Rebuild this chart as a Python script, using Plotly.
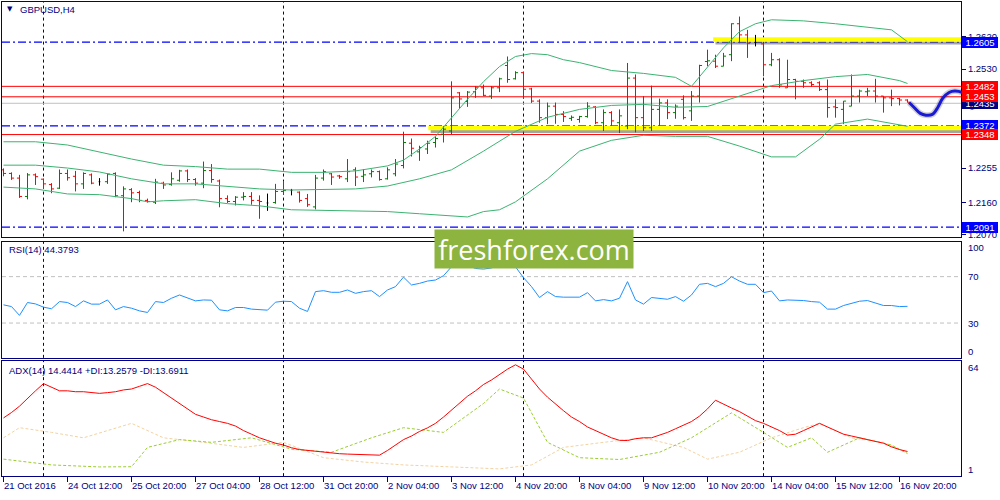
import plotly.graph_objects as go

# ---------------- data ----------------
symbol_title = "GBPUSD,H4"
rsi_title = "RSI(14) 44.3793"
adx_title = "ADX(14) 14.4414 +DI:13.2579 -DI:13.6911"

tick_idx = [0, 8, 16, 24, 32, 40, 48, 56, 64, 72, 80, 88, 96, 104, 112]
tick_labels = ["21 Oct 2016", "24 Oct 12:00", "25 Oct 20:00", "27 Oct 04:00", "28 Oct 12:00",
               "31 Oct 20:00", "2 Nov 04:00", "3 Nov 12:00", "4 Nov 20:00", "8 Nov 04:00",
               "9 Nov 12:00", "10 Nov 20:00", "14 Nov 04:00", "15 Nov 12:00", "16 Nov 20:00"]
week_sep_idx = [5, 35, 65, 95]
price_ticks = [1.2620, 1.2530, 1.2255, 1.2160, 1.2070]

opens = [1.2250, 1.2240, 1.2227, 1.2176, 1.2236, 1.2224, 1.2209, 1.2199, 1.2240, 1.2232,
         1.2211, 1.2236, 1.2217, 1.2217, 1.2240, 1.2178, 1.2195, 1.2187, 1.2165, 1.2160,
         1.2213, 1.2209, 1.2221, 1.2247, 1.2223, 1.2213, 1.2248, 1.2219, 1.2170, 1.2162,
         1.2174, 1.2176, 1.2165, 1.2158, 1.2159, 1.2190, 1.2193, 1.2188, 1.2170, 1.2147,
         1.2227, 1.2239, 1.2233, 1.2225, 1.2250, 1.2232, 1.2239, 1.2245, 1.2225, 1.2239,
         1.2262, 1.2324, 1.2300, 1.2308, 1.2326, 1.2349, 1.2358, 1.2464, 1.2440, 1.2467,
         1.2478, 1.2455, 1.2478, 1.2540, 1.2503, 1.2520, 1.2475, 1.2441, 1.2395, 1.2427,
         1.2404, 1.2393, 1.2390, 1.2398, 1.2425, 1.2381, 1.2409, 1.2381, 1.2372, 1.2505,
         1.2395, 1.2367, 1.2418, 1.2436, 1.2409, 1.2446, 1.2414, 1.2455, 1.2551, 1.2552,
         1.2538, 1.2570, 1.2656, 1.2625, 1.2604, 1.2600, 1.2542, 1.2556, 1.2478, 1.2501,
         1.2496, 1.2492, 1.2492, 1.2473, 1.2425, 1.2418, 1.2427, 1.2455, 1.2467, 1.2469,
         1.2455, 1.2450, 1.2448, 1.2444]
highs = [1.2254, 1.2243, 1.2236, 1.2241, 1.2240, 1.2226, 1.2213, 1.2251, 1.2251, 1.2247,
         1.2243, 1.2240, 1.2227, 1.2240, 1.2243, 1.2204, 1.2199, 1.2192, 1.2170, 1.2225,
         1.2217, 1.2243, 1.2250, 1.2251, 1.2227, 1.2273, 1.2266, 1.2223, 1.2179, 1.2177,
         1.2188, 1.2188, 1.2179, 1.2184, 1.2211, 1.2219, 1.2197, 1.2190, 1.2183, 1.2236,
         1.2251, 1.2241, 1.2236, 1.2280, 1.2257, 1.2252, 1.2251, 1.2248, 1.2257, 1.2280,
         1.2356, 1.2337, 1.2317, 1.2331, 1.2343, 1.2372, 1.2496, 1.2466, 1.2469, 1.2483,
         1.2487, 1.2483, 1.2506, 1.2565, 1.2524, 1.2522, 1.2478, 1.2446, 1.2437, 1.2437,
         1.2413, 1.2401, 1.2400, 1.2438, 1.2427, 1.2418, 1.2413, 1.2418, 1.2547, 1.2515,
         1.2455, 1.2484, 1.2448, 1.2446, 1.2432, 1.2457, 1.2469, 1.2542, 1.2584, 1.2570,
         1.2575, 1.2657, 1.2676, 1.2639, 1.2625, 1.2602, 1.2575, 1.2560, 1.2556, 1.2503,
         1.2501, 1.2496, 1.2496, 1.2501, 1.2446, 1.2441, 1.2515, 1.2473, 1.2478, 1.2503,
         1.2455, 1.2473, 1.2450, 1.2446]
lows = [1.2232, 1.2222, 1.2172, 1.2168, 1.2208, 1.2197, 1.2185, 1.2197, 1.2220, 1.2190,
        1.2197, 1.2210, 1.2206, 1.2211, 1.2174, 1.2079, 1.2160, 1.2160, 1.2159, 1.2155,
        1.2197, 1.2206, 1.2217, 1.2216, 1.2206, 1.2199, 1.2214, 1.2146, 1.2158, 1.2151,
        1.2165, 1.2153, 1.2114, 1.2136, 1.2156, 1.2180, 1.2179, 1.2159, 1.2147, 1.2140,
        1.2220, 1.2208, 1.2225, 1.2216, 1.2205, 1.2216, 1.2229, 1.2220, 1.2223, 1.2232,
        1.2254, 1.2287, 1.2275, 1.2294, 1.2312, 1.2326, 1.2349, 1.2420, 1.2425, 1.2450,
        1.2455, 1.2447, 1.2466, 1.2492, 1.2501, 1.2447, 1.2436, 1.2381, 1.2377, 1.2378,
        1.2383, 1.2386, 1.2381, 1.2395, 1.2377, 1.2358, 1.2372, 1.2352, 1.2363, 1.2354,
        1.2358, 1.2358, 1.2372, 1.2391, 1.2392, 1.2390, 1.2386, 1.2437, 1.2538, 1.2533,
        1.2538, 1.2552, 1.2602, 1.2561, 1.2593, 1.2510, 1.2538, 1.2478, 1.2478, 1.2446,
        1.2478, 1.2481, 1.2469, 1.2395, 1.2395, 1.2377, 1.2427, 1.2437, 1.2455, 1.2437,
        1.2409, 1.2427, 1.2429, 1.2437]
closes = [1.2240, 1.2227, 1.2176, 1.2236, 1.2231, 1.2211, 1.2197, 1.2240, 1.2228, 1.2211,
          1.2240, 1.2213, 1.2217, 1.2238, 1.2178, 1.2197, 1.2186, 1.2165, 1.2162, 1.2216,
          1.2208, 1.2225, 1.2247, 1.2223, 1.2213, 1.2248, 1.2223, 1.2170, 1.2162, 1.2174,
          1.2176, 1.2165, 1.2162, 1.2158, 1.2190, 1.2193, 1.2193, 1.2165, 1.2153, 1.2227,
          1.2245, 1.2230, 1.2231, 1.2245, 1.2230, 1.2236, 1.2245, 1.2223, 1.2250, 1.2266,
          1.2326, 1.2310, 1.2312, 1.2324, 1.2337, 1.2363, 1.2450, 1.2447, 1.2466, 1.2478,
          1.2457, 1.2478, 1.2503, 1.2501, 1.2520, 1.2474, 1.2441, 1.2395, 1.2427, 1.2404,
          1.2398, 1.2396, 1.2398, 1.2427, 1.2381, 1.2409, 1.2386, 1.2400, 1.2505, 1.2395,
          1.2367, 1.2418, 1.2436, 1.2409, 1.2427, 1.2395, 1.2455, 1.2540, 1.2553, 1.2538,
          1.2566, 1.2656, 1.2625, 1.2602, 1.2604, 1.2542, 1.2556, 1.2486, 1.2501, 1.2496,
          1.2492, 1.2487, 1.2473, 1.2423, 1.2423, 1.2441, 1.2455, 1.2469, 1.2469, 1.2455,
          1.2450, 1.2448, 1.2444, 1.2438]

# Bollinger bands read at selected bars
bb_up_idx = [0, 4, 8, 12, 16, 20, 24, 28, 32, 36, 40, 44, 48, 50, 52, 54, 56, 58, 60, 62, 64, 66,
             68, 70, 72, 76, 80, 84, 86, 88, 90, 92, 94, 96, 100, 104, 108, 111, 113]
bb_up = [1.2328, 1.2328, 1.2319, 1.2299, 1.2280, 1.2263, 1.2259, 1.2252, 1.2252, 1.2243, 1.2243,
         1.2247, 1.2261, 1.2277, 1.2308, 1.2343, 1.2396, 1.2446, 1.2495, 1.2537, 1.2565, 1.2573,
         1.2570, 1.2556, 1.2548, 1.2526, 1.2518, 1.2507, 1.2482, 1.2534, 1.2589, 1.2634, 1.2656,
         1.2667, 1.2664, 1.2656, 1.2647, 1.2639, 1.2606]
bb_mid_idx = [0, 4, 8, 12, 16, 20, 24, 28, 32, 36, 40, 44, 48, 52, 56, 60, 64, 68, 72, 76, 80, 84,
              88, 92, 96, 100, 104, 108, 112, 113]
bb_mid = [1.2263, 1.2263, 1.2255, 1.2244, 1.2225, 1.2211, 1.2211, 1.2203, 1.2197, 1.2194, 1.2195,
          1.2197, 1.2205, 1.2225, 1.2250, 1.2302, 1.2357, 1.2396, 1.2418, 1.2429, 1.2432, 1.2424,
          1.2426, 1.2454, 1.2484, 1.2498, 1.2509, 1.2515, 1.2498, 1.2490]
bb_low_idx = [0, 4, 8, 12, 16, 18, 20, 24, 28, 32, 36, 40, 44, 48, 52, 56, 58, 60, 62, 64, 68, 72,
              76, 80, 84, 88, 92, 96, 99, 102, 104, 108, 111, 113]
bb_low = [1.2202, 1.2197, 1.2183, 1.2181, 1.2170, 1.2161, 1.2164, 1.2167, 1.2156, 1.2150, 1.2139,
          1.2137, 1.2136, 1.2134, 1.2128, 1.2123, 1.2119, 1.2134, 1.2139, 1.2161, 1.2225, 1.2302,
          1.2332, 1.2346, 1.2343, 1.2343, 1.2316, 1.2286, 1.2286, 1.2335, 1.2377, 1.2391, 1.2379,
          1.2371]

rsi = [45.7, 44.2, 36.6, 47.7, 46.5, 43.7, 42.3, 48.5, 47.7, 44.2, 49.1, 46.3, 46.3, 49.9, 41.4,
       44.2, 42.8, 40.5, 39.1, 48.5, 47.7, 51.4, 54.2, 51.4, 49.1, 49.9, 49.7, 41.4, 40.5, 43.4,
       43.4, 42.0, 41.4, 41.1, 48.0, 48.8, 48.5, 42.8, 40.0, 57.1, 57.9, 56.5, 56.5, 58.5, 55.6,
       57.1, 57.9, 52.8, 58.5, 61.4, 69.6, 62.8, 64.2, 66.2, 67.1, 70.8, 78.5, 82.0, 80.0, 77.0,
       76.5, 77.5, 80.0, 82.0, 78.4, 69.1, 61.4, 52.0, 57.1, 52.8, 52.3, 52.3, 52.3, 56.2, 49.1,
       50.2, 49.1, 51.4, 65.7, 49.9, 46.3, 52.0, 51.4, 50.5, 52.8, 48.8, 54.2, 63.4, 64.2, 61.4,
       64.2, 69.9, 66.2, 63.4, 63.4, 56.2, 57.6, 49.1, 49.9, 49.9, 49.4, 48.5, 48.0, 42.0, 42.0,
       45.1, 47.1, 48.8, 49.4, 47.1, 45.1, 45.1, 44.2, 44.4]

adx = [33, 36, 39.5, 44, 48, 52, 50, 48, 48, 47.5, 47.5, 47, 46.6, 47, 47.5, 48.5, 49, 50.5, 52, 50,
       47, 44, 41, 38, 35, 33.5, 32, 31, 30, 28.5, 26, 24, 22, 20.5, 19, 18, 16.5, 15.5, 15, 14.5,
       14, 13.5, 13.2, 13, 12.8, 12.6, 12.5, 12.4, 15, 18, 21, 23, 25.5, 27.5, 30, 33.5, 37.5, 41,
       45, 48, 51.5, 54, 57, 60, 62.4, 60, 54.5, 49, 44.5, 40.5, 37, 33.5, 31, 28, 26, 24, 22, 20.6,
       20.5, 21.5, 22, 22, 23.5, 25, 27, 29, 31, 34, 38, 42.8, 40.5, 38.5, 36.5, 34, 31.5, 30, 28,
       26, 23.5, 24, 26, 28, 30, 28, 26, 24, 23, 22, 21, 20, 19, 17, 15.5, 14.44]
pdi_idx = [0, 6, 12, 16, 18, 22, 26, 31, 36, 41, 46, 50, 55, 60, 62, 65, 68, 72, 77, 82, 86, 88,
           91, 95, 98, 101, 103, 107, 111, 113]
pdi = [10.2, 7, 5.9, 6, 16.7, 21, 19.5, 22, 15.7, 14, 22, 27.6, 25, 41, 49, 44, 19.5, 11, 10, 14,
       22, 27.6, 35.8, 25, 16.7, 22, 14, 22, 18, 13.26]
mdi_idx = [0, 2, 6, 10, 16, 20, 25, 30, 35, 40, 45, 50, 56, 62, 66, 70, 75, 80, 85, 88, 92, 96,
           100, 102, 106, 110, 113]
mdi = [22, 27.6, 25, 22, 30, 22, 19.5, 16.7, 19.5, 11, 8.6, 7, 5.9, 4.8, 7, 16.7, 19.5, 22, 16.7,
       10.2, 14, 22, 27.6, 30, 22, 19.5, 13.69]

# horizontal levels and drawings
blue_levels = [1.2605, 1.2372, 1.2091]
red_levels = [1.2482, 1.2453, 1.2348]
bid_level = 1.2435
yellow_prices = [1.2612, 1.23665]
yellow_start_idx = [88.7, 53.1]
fc_idx = [113.2, 113.8, 114.6, 115.3, 116.1, 116.8, 117.4, 118.2, 118.9, 119.8, 120.4, 120.9, 121.2]
fc_price = [1.2437, 1.2424, 1.2407, 1.2402, 1.2404, 1.2424, 1.2449, 1.2465, 1.2469, 1.2465,
            1.2454, 1.2435, 1.2418]
watermark = "freshforex.com"

# ---------------- layout geometry (pixels) ----------------
W, H = 1000, 500
NAVY = "#000080"
FONT = "Liberation Sans, Arial, sans-serif"
X_LEFT, X_RIGHT = 2, 961
BAR0, STEP = 3.5, 8.0


def fx(px):
    return px / W


def fy(py):
    return 1 - py / H


xr = [(X_LEFT - BAR0) / STEP, (X_RIGHT - BAR0) / STEP]
main_top, main_bot = 2, 238
pr_top = 1.2530 + (69.5 - main_top) / 3620
pr_bot = 1.2530 - (main_bot - 69.5) / 3620

fig = go.Figure()

# OHLC bars
n = len(opens)
allidx = list(range(n))
groups = [
    ([i for i in allidx if closes[i] > opens[i]], "#008000"),
    ([i for i in allidx if closes[i] < opens[i]], "#FF0000"),
    ([i for i in allidx if closes[i] == opens[i]], "#000000"),
]
for sel, col in groups:
    gaps = [b - a for a, b in zip(sel, sel[1:])]
    mg = min(gaps) if gaps else 1
    fig.add_trace(go.Ohlc(
        x=sel, open=[opens[i] for i in sel], high=[highs[i] for i in sel],
        low=[lows[i] for i in sel], close=[closes[i] for i in sel],
        increasing=dict(line=dict(color=col, width=1)),
        decreasing=dict(line=dict(color=col, width=1)),
        tickwidth=min(0.5, 0.32 / mg), xaxis="x", yaxis="y",
        showlegend=False, hoverinfo="skip"))

# Bollinger bands
for xi, yv in [(bb_up_idx, bb_up), (bb_mid_idx, bb_mid), (bb_low_idx, bb_low)]:
    fig.add_trace(go.Scatter(x=xi, y=yv, mode="lines", line=dict(color="#3CB371", width=1),
                             xaxis="x", yaxis="y", showlegend=False, hoverinfo="skip"))

# forecast curve on a full-width overlay axis
fig.add_trace(go.Scatter(x=fc_idx, y=fc_price, mode="lines", line=dict(color="rgba(0,0,0,0.18)", width=6, shape="spline"),
                         xaxis="x4", yaxis="y", showlegend=False, hoverinfo="skip"))
fig.add_trace(go.Scatter(x=fc_idx, y=fc_price, mode="lines+markers",
                         line=dict(color="#1A1AD6", width=3, shape="spline"),
                         marker=dict(symbol="arrow", angleref="previous", color="#1A1AD6",
                                     size=[0] * (len(fc_idx) - 1) + [10]),
                         xaxis="x4", yaxis="y", showlegend=False, hoverinfo="skip"))

# RSI
fig.add_trace(go.Scatter(x=allidx, y=rsi, mode="lines", line=dict(color="#1E90FF", width=1),
                         xaxis="x2", yaxis="y2", showlegend=False, hoverinfo="skip"))
# ADX
fig.add_trace(go.Scatter(x=mdi_idx, y=mdi, mode="lines", line=dict(color="#F2D2A2", width=1, dash="3px,2px"),
                         xaxis="x3", yaxis="y3", showlegend=False, hoverinfo="skip"))
fig.add_trace(go.Scatter(x=pdi_idx, y=pdi, mode="lines", line=dict(color="#9ACD32", width=1, dash="3px,2px"),
                         xaxis="x3", yaxis="y3", showlegend=False, hoverinfo="skip"))
fig.add_trace(go.Scatter(x=allidx, y=adx, mode="lines", line=dict(color="#FF0000", width=1),
                         xaxis="x3", yaxis="y3", showlegend=False, hoverinfo="skip"))

shapes = []
# week separators
for xref, yref in [("x", "y domain"), ("x2", "y2 domain"), ("x3", "y3 domain")]:
    for s in week_sep_idx:
        shapes.append(dict(type="line", xref=xref, yref=yref, x0=s, x1=s, y0=0, y1=1, layer="below",
                           line=dict(color=NAVY, width=1, dash="3px,3px")))
# RSI levels
for lv in [70, 30]:
    shapes.append(dict(type="line", xref="x2 domain", yref="y2", x0=0, x1=1, y0=lv, y1=lv, layer="below",
                       line=dict(color="#C0C0C0", width=1, dash="4px,3px")))
# price levels
shapes.append(dict(type="line", xref="x domain", yref="y", x0=0, x1=1, y0=bid_level, y1=bid_level,
                   layer="below", line=dict(color="#C0C0C0", width=1)))
for p in red_levels:
    shapes.append(dict(type="line", xref="x domain", yref="y", x0=0, x1=1, y0=p, y1=p, layer="below",
                       line=dict(color="#FF0000", width=1)))
# yellow support/resistance with shadow
for p, s in zip(yellow_prices, yellow_start_idx):
    shapes.append(dict(type="line", xref="x", yref="y", x0=s + 0.3, x1=xr[1], ysizemode="pixel", yanchor=p,
                       y0=-3.5, y1=-3.5, layer="below", line=dict(color="rgba(90,90,90,0.55)", width=3)))
    shapes.append(dict(type="line", xref="x", yref="y", x0=s, x1=xr[1], y0=p, y1=p, layer="below",
                       line=dict(color="#FFFF00", width=4.5)))
for p in blue_levels:
    shapes.append(dict(type="line", xref="x domain", yref="y", x0=0, x1=1, y0=p, y1=p, layer="below",
                       line=dict(color="#0000FF", width=1.3, dash="8px,3px,2px,3px")))

ann = []
small = dict(family=FONT, size=9.5, color=NAVY)
ann.append(dict(text="▼", x=fx(9.5), y=fy(9.5), xref="paper", yref="paper", showarrow=False,
                font=dict(family="DejaVu Sans", size=7, color=NAVY), xanchor="center", yanchor="middle"))
ann.append(dict(text=symbol_title, x=fx(17.5), y=fy(10), xref="paper", yref="paper", showarrow=False,
                font=small, xanchor="left", yanchor="middle"))
ann.append(dict(text=rsi_title, x=fx(6.5), y=fy(251.5), xref="paper", yref="paper", showarrow=False,
                font=small, xanchor="left", yanchor="middle"))
ann.append(dict(text=adx_title, x=fx(6.5), y=fy(372.5), xref="paper", yref="paper", showarrow=False,
                font=small, xanchor="left", yanchor="middle"))
for t, py in [("100", 249.3), ("70", 278.3), ("30", 325), ("0", 353.3), ("64", 369.3), ("1", 472.3)]:
    ann.append(dict(text=t, x=fx(965.5), y=fy(py), xref="paper", yref="paper", showarrow=False,
                    font=small, xanchor="left", yanchor="middle"))
for ti, tl in zip(tick_idx, tick_labels):
    ann.append(dict(text=tl, x=ti, y=fy(488.5), xref="x3", yref="paper", showarrow=False,
                    font=small, xanchor="left", yanchor="middle", xshift=-1.5))
# price labels on the right
labels = [(bid_level, "#000080")] + [(p, "#0000FF") for p in blue_levels] + [(p, "#FF0000") for p in red_levels]
for p, bg in labels:
    ann.append(dict(text=f"{p:.4f}", x=fx(961.5), y=p, xref="paper", yref="y", showarrow=False,
                    font=dict(family=FONT, size=9.5, color="#FFFFFF"), bgcolor=bg, width=36, height=11,
                    borderpad=0, borderwidth=0, xanchor="left", yanchor="middle", align="center"))
# watermark
ann.append(dict(text=watermark, x=fx(534), y=fy(251), xref="paper", yref="paper", showarrow=False,
                font=dict(family="Open Sans, Noto Sans, sans-serif", size=27, color="#FFFFFF"),
                bgcolor="#8DB43E", width=198, height=38, borderpad=0, xanchor="center", yanchor="middle"))

axis_common = dict(showgrid=False, zeroline=False, showline=True, mirror=True, linecolor=NAVY,
                   linewidth=1, fixedrange=True)

fig.update_layout(
    width=W, height=H, autosize=False, margin=dict(l=0, r=0, t=0, b=0),
    paper_bgcolor="#FFFFFF", plot_bgcolor="rgba(0,0,0,0)", showlegend=False,
    xaxis=dict(domain=[fx(X_LEFT), fx(X_RIGHT)], range=xr, anchor="y", showticklabels=False, ticks="",
               rangeslider=dict(visible=False), **axis_common),
    yaxis=dict(domain=[fy(main_bot), fy(main_top)], range=[pr_bot, pr_top], anchor="x", side="right",
               tickvals=price_ticks, ticktext=[f"{v:.4f}" for v in price_ticks], ticks="outside", ticklen=4,
               tickcolor=NAVY, tickfont=dict(family=FONT, size=9.5, color=NAVY), **axis_common),
    xaxis2=dict(domain=[fx(X_LEFT), fx(X_RIGHT)], range=xr, anchor="y2", showticklabels=False, ticks="",
                rangeslider=dict(visible=False), **axis_common),
    yaxis2=dict(domain=[fy(360), fy(243.3)], range=[0, 100], anchor="x2", showticklabels=False, ticks="",
                **axis_common),
    xaxis3=dict(domain=[fx(X_LEFT), fx(X_RIGHT)], range=xr, anchor="y3", showticklabels=False,
                ticks="outside", ticklen=5, tickcolor=NAVY, tickvals=tick_idx,
                rangeslider=dict(visible=False), **axis_common),
    yaxis3=dict(domain=[fy(479), fy(363)], range=[0.8, 64.6], anchor="x3", showticklabels=False, ticks="",
                **axis_common),
    xaxis4=dict(domain=[0, 1], range=[(0 - BAR0) / STEP, (W - BAR0) / STEP], anchor="y", visible=False,
                fixedrange=True, rangeslider=dict(visible=False)),
    shapes=shapes, annotations=ann,
)

fig.write_html("out.html", config={"displayModeBar": False},
               post_script="document.body.style.margin='0';document.body.style.overflow='hidden';")
